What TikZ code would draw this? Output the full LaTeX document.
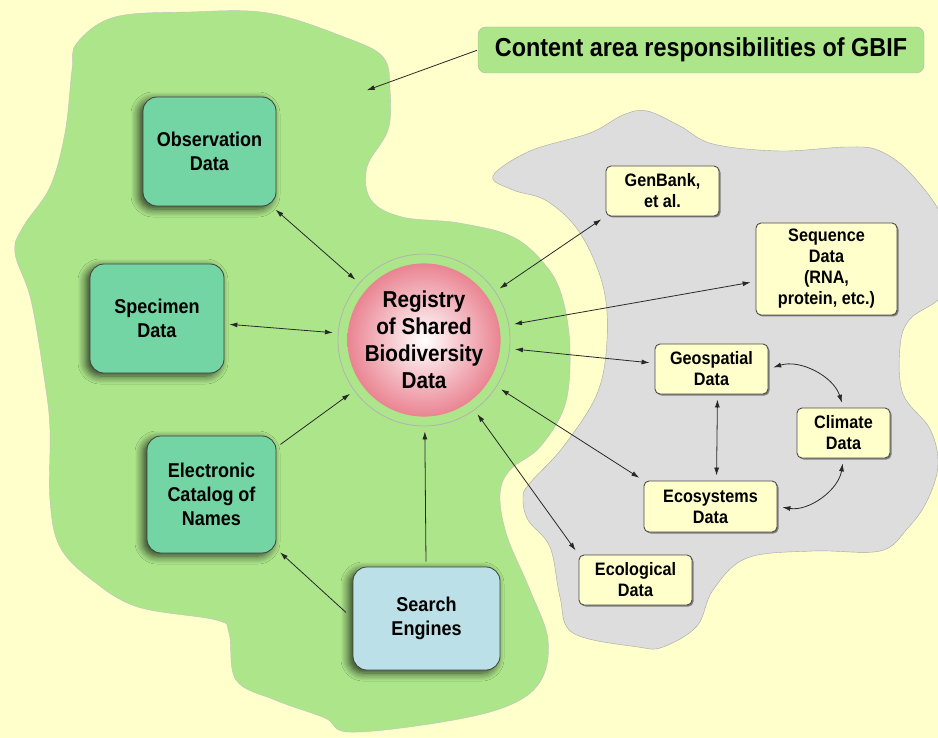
\documentclass[tikz,border=0pt]{standalone}
\usepackage{fontspec}
\setmainfont{Liberation Sans}[FakeStretch=0.9]
\usetikzlibrary{arrows.meta,shadows,shadows.blur}

\definecolor{paper}{RGB}{255,255,204}
\definecolor{leaf}{RGB}{173,230,138}
\definecolor{fog}{RGB}{221,221,221}
\definecolor{mint}{RGB}{115,212,164}
\definecolor{sky}{RGB}{188,224,232}
\definecolor{rose}{RGB}{234,132,146}
\definecolor{ink}{RGB}{40,40,40}

\begin{document}
\begin{tikzpicture}[x=1pt,y=-1pt,
  >={Latex[length=8pt,width=5pt]},
  link/.style={<->,draw=ink,line width=0.8pt,shorten <=5pt,shorten >=5pt},
  feed/.style={->,draw=ink,line width=0.8pt,shorten <=5pt,shorten >=5pt},
  tealbox/.style={rectangle,rounded corners=14pt,draw=black!75,line width=0.8pt,
    fill=mint,align=center,font=\bfseries\fontsize{20}{24}\selectfont,
    blur shadow={shadow xshift=-4pt,shadow yshift=-3pt,shadow blur radius=8pt,
      shadow blur steps=8,shadow opacity=75}},
  databox/.style={rectangle,rounded corners=5pt,draw=black!70,line width=0.9pt,
    fill=paper,align=center,inner sep=3pt,font=\bfseries\fontsize{18}{21}\selectfont,
    drop shadow={shadow xshift=1.5pt,shadow yshift=-1.5pt,fill=black!60,opacity=0.8}}
]
\useasboundingbox[fill=paper] (0,0) rectangle (938,738);

% the two areas
\draw[fill=leaf,draw=black!25] plot[smooth cycle,tension=0.6] coordinates {
  (77,43) (115,17) (190,12) (268,13) (344,37) (383,57) (390,90) (388,130)
  (367,167) (371,200) (402,217) (459,223) (513,237) (547,267) (563,300)
  (570,350) (565,405) (540,447) (510,470) (500,495) (507,536) (530,590)
  (548,640) (540,682) (505,707) (436,723) (349,732) (325,718) (275,700)
  (236,680) (229,633) (216,620) (138,607) (92,580) (60,547) (50,500)
  (50,430) (45,383) (31,300) (15,253) (23,227) (50,187) (65,133) (72,70)};
\draw[fill=fog,draw=black!35] plot[smooth cycle,tension=0.6] coordinates {
  (493,176) (530,151) (590,133) (623,115) (647,111) (680,126) (713,144)
  (780,151) (847,147) (880,151) (913,176) (945,225) (945,290) (910,319)
  (900,347) (903,394) (930,429) (938,465) (927,501) (907,529) (880,551)
  (813,551) (747,558) (713,590) (697,626) (663,647) (638,647) (573,633)
  (560,597) (550,547) (528,520) (523,497) (530,483) (563,447) (597,394)
  (607,340) (603,286) (580,233) (547,201) (513,190)};

% title
\node[rectangle,rounded corners=8pt,fill=leaf,draw=black!30,minimum width=446pt,
  minimum height=46pt,font=\bfseries\fontsize{26}{30}\selectfont] (title) at (701,50)
  {Content area responsibilities of GBIF};
\coordinate (tip) at (362,92);

% registry
\node[circle,draw=black!30,line width=0.8pt,minimum size=172pt] (ring) at (424,340) {};
\node[circle,minimum size=148pt,inner sep=0pt,shading=radial,inner color=white,
  outer color=rose,align=center,font=\bfseries\fontsize{23}{27}\selectfont] (reg) at (424,340)
  {Registry\\of Shared\\Biodiversity\\Data};

% left side
\node[tealbox,minimum width=133pt,minimum height=109pt] (obs) at (209.5,151.5) {Observation\\Data};
\node[tealbox,minimum width=134pt,minimum height=109pt] (spec) at (157,318.5) {Specimen\\Data};
\node[tealbox,minimum width=129pt,minimum height=117pt] (cat) at (211.5,494.5) {Electronic\\Catalog of\\Names};
\node[tealbox,fill=sky,minimum width=147pt,minimum height=103pt] (search) at (426.5,618.5) {Search\\Engines};

% right side
\node[databox,minimum width=113pt,minimum height=50pt] (gen) at (662.5,191) {GenBank,\\et al.};
\node[databox,minimum width=141pt,minimum height=92pt] (seq) at (826.5,269) {Sequence\\Data\\(RNA,\\protein, etc.)};
\node[databox,minimum width=113pt,minimum height=50pt] (geo) at (711.5,369) {Geospatial\\Data};
\node[databox,minimum width=93pt,minimum height=50pt] (clim) at (843.5,433) {Climate\\Data};
\node[databox,minimum width=133pt,minimum height=51pt] (eco) at (710.5,506.5) {Ecosystems\\Data};
\node[databox,minimum width=113pt,minimum height=50pt] (ecol) at (635.5,580) {Ecological\\Data};

% connectors
\draw[feed,shorten <=1pt] (title.west) -- (tip);
\draw[link] (obs) -- (ring);
\draw[link] (spec) -- (ring);
\draw[feed] (cat) -- (ring);
\draw[feed] (search) -- (ring);
\draw[feed,shorten <=9pt] (search.west) -- (cat.-40);
\draw[link] (gen.south west) -- (ring);
\draw[link] (seq) -- (ring);
\draw[link] (geo) -- (ring);
\draw[link] (eco.north west) -- (ring);
\draw[link] (ecol.north west) -- (ring);
\draw[link] ([xshift=6pt]geo.south) -- ([xshift=6pt]eco.north);
\draw[link] (geo.east) to[bend left=45] (clim.north);
\draw[link] (clim.south) to[bend left=45] (eco.east);
\end{tikzpicture}
\end{document}
